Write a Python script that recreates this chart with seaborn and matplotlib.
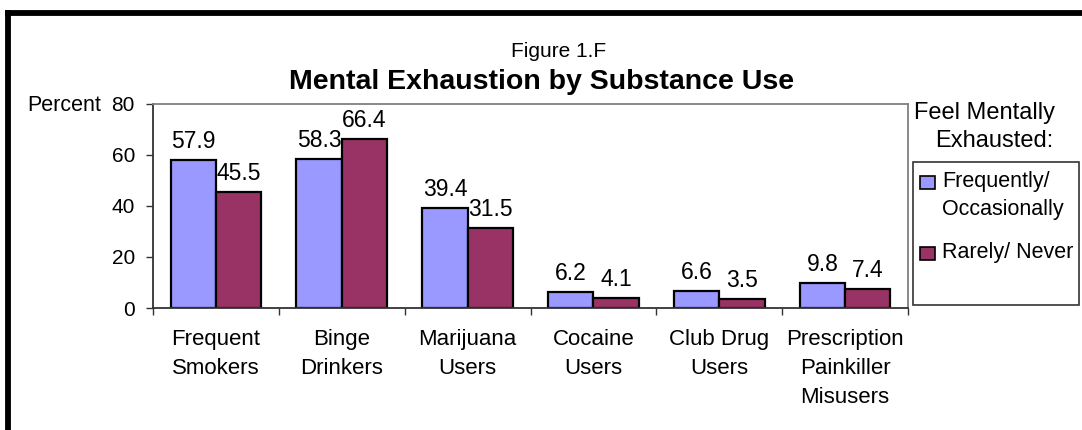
import matplotlib
matplotlib.use("Agg")
import matplotlib.pyplot as plt
from matplotlib.patches import Rectangle
from matplotlib.lines import Line2D
import seaborn as sns
import pandas as pd
import numpy as np

categories = ["Frequent\nSmokers", "Binge\nDrinkers", "Marijuana\nUsers",
              "Cocaine\nUsers", "Club Drug\nUsers",
              "Prescription\nPainkiller\nMisusers"]
series_names = ["Frequently/\nOccasionally", "Rarely/ Never"]
freq_occ = [57.9, 58.3, 39.4, 6.2, 6.6, 9.8]
rare_never = [45.5, 66.4, 31.5, 4.1, 3.5, 7.4]
y_ticks = [0, 20, 40, 60, 80]
colors = ["#9999FF", "#993366"]

sns.set_theme(style="white")
plt.rcParams["font.family"] = ["Liberation Sans", "DejaVu Sans"]
plt.rcParams["text.color"] = "black"
plt.rcParams["xtick.labelcolor"] = "black"
plt.rcParams["ytick.labelcolor"] = "black"

df = pd.DataFrame({
    "category": categories * 2,
    "series": [series_names[0]] * len(categories) + [series_names[1]] * len(categories),
    "value": freq_occ + rare_never,
})

W, H = 1082, 430
fig = plt.figure(figsize=(W / 100, H / 100), dpi=100)


def fx(px):
    return px / W


def fy(py):
    return 1 - py / H


ax = fig.add_axes([fx(153), fy(308), (908 - 153) / W, (308 - 104) / H])

sns.barplot(data=df, x="category", y="value", hue="series", order=categories,
            hue_order=series_names, palette=colors, width=0.72, gap=0,
            edgecolor="black", linewidth=1.6, saturation=1, legend=False, ax=ax)

for cont in ax.containers:
    ax.bar_label(cont, fmt="%.1f", padding=5, fontsize=16.5, color="black")

ax.set_ylim(0, 80)
ax.set_xlim(-0.5, len(categories) - 0.5)
ax.set_yticks(y_ticks)
ax.set_xlabel("")
ax.set_ylabel("")
ax.tick_params(axis="y", labelsize=15, length=5, width=1, color="#333333",
               labelcolor="black", direction="out", left=True, pad=8)
ax.set_xticks(range(len(categories)))
ax.set_xticklabels(categories, fontsize=16, linespacing=1.5, color="black")
ax.tick_params(axis="x", length=0, pad=15)
ax.set_xticks(np.arange(-0.5, len(categories), 1.0), minor=True)
ax.tick_params(axis="x", which="minor", length=5, width=1, color="#333333",
               direction="out", bottom=True)
for side in ["left", "bottom"]:
    ax.spines[side].set_color("#333333")
    ax.spines[side].set_linewidth(1.3)
for side in ["top", "right"]:
    ax.spines[side].set_color("#808080")
    ax.spines[side].set_linewidth(1.3)
ax.grid(False)

fig.text(fx(101), fy(111), "Percent", ha="right", va="baseline", fontsize=15.5)
fig.text(fx(559), fy(57), "Figure 1.F", ha="center", va="baseline", fontsize=15)
fig.text(fx(542), fy(89), "Mental Exhaustion by Substance Use", ha="center",
         va="baseline", fontsize=20.5, fontweight="bold")

# legend: title above a framed key
fig.text(fx(985), fy(119), "Feel Mentally", ha="center", va="baseline", fontsize=17)
fig.text(fx(994), fy(147), "Exhausted:", ha="center", va="baseline", fontsize=17)
fig.add_artist(Rectangle((fx(913), fy(305)), (1079 - 913) / W, (305 - 162) / H,
                         transform=fig.transFigure, facecolor="white",
                         edgecolor="#333333", linewidth=1.2, zorder=1))
key_tops = [176, 247]
key_baselines = [187, 258]
for color, name, top, base in zip(colors, series_names, key_tops, key_baselines):
    fig.add_artist(Rectangle((fx(920), fy(top + 13)), 15 / W, 13 / H,
                             transform=fig.transFigure, facecolor=color,
                             edgecolor="black", linewidth=1.2, zorder=2))
    fig.text(fx(942), fy(base), name.split("\n")[0], ha="left", va="baseline",
             fontsize=15.5, zorder=3)
    if "\n" in name:
        fig.text(fx(942), fy(base + 28), name.split("\n")[1], ha="left",
                 va="baseline", fontsize=15.5, zorder=3)

# thick outer border
fig.add_artist(Line2D([fx(8), 1.0], [fy(13), fy(13)],
                      transform=fig.transFigure, color="black", linewidth=4.2,
                      solid_capstyle="projecting"))
fig.add_artist(Line2D([fx(8), fx(8)], [0, fy(13)],
                      transform=fig.transFigure, color="black", linewidth=4.2,
                      solid_capstyle="projecting"))

fig.savefig("out.png", dpi=100, facecolor="white")
